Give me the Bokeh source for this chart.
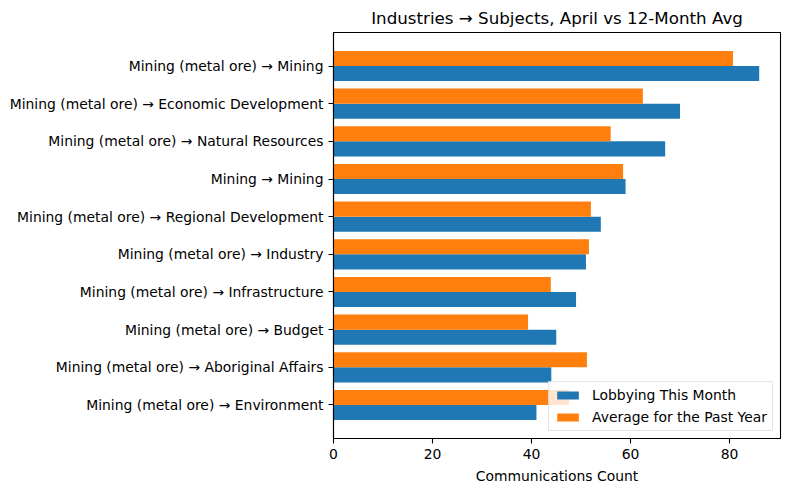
from bokeh.plotting import figure
from bokeh.models import ColumnDataSource, Range1d, FixedTicker, Legend, LegendItem
from bokeh.transform import dodge
from bokeh.embed import file_html
from bokeh.resources import INLINE

categories = [
    "Mining (metal ore) → Mining",
    "Mining (metal ore) → Economic Development",
    "Mining (metal ore) → Natural Resources",
    "Mining → Mining",
    "Mining (metal ore) → Regional Development",
    "Mining (metal ore) → Industry",
    "Mining (metal ore) → Infrastructure",
    "Mining (metal ore) → Budget",
    "Mining (metal ore) → Aboriginal Affairs",
    "Mining (metal ore) → Environment",
]
this_month = [86, 70, 67, 59, 54, 51, 49, 45, 44, 41]
past_year_avg = [80.7, 62.5, 56.0, 58.5, 52.0, 51.6, 43.9, 39.3, 51.2, 47.6]
x_ticks = [0, 20, 40, 60, 80]

n = len(categories)
pos = [n - 1 - i for i in range(n)]
src = ColumnDataSource(dict(pos=pos, cat=categories, cur=this_month, avg=past_year_avg))

FONT = "DejaVu Sans"
BLUE = "#1f77b4"
ORANGE = "#ff7f0e"

p = figure(width=790, height=491, output_backend="svg", toolbar_location=None,
           x_range=Range1d(0, 90.3), y_range=Range1d(-0.89, 9.89),
           title="Industries → Subjects, April vs 12-Month Avg")
p.min_border_left = 333
p.min_border_right = 10
p.min_border_top = 30
p.min_border_bottom = 53

r_cur = p.hbar(y=dodge("pos", -0.2, range=p.y_range), right="cur", left=0, height=0.4,
               source=src, fill_color=BLUE, line_color=None)
r_avg = p.hbar(y=dodge("pos", 0.2, range=p.y_range), right="avg", left=0, height=0.4,
               source=src, fill_color=ORANGE, line_color=None)

p.title.text_font = FONT
p.title.text_font_size = "16.7px"
p.title.text_font_style = "normal"
p.title.align = "center"
p.title.text_color = "black"

p.xgrid.visible = False
p.ygrid.visible = False
p.outline_line_color = "black"
p.outline_line_width = 1.1
p.background_fill_color = "white"
p.border_fill_color = "white"

for ax in (p.xaxis[0], p.yaxis[0]):
    ax.major_label_text_font = FONT
    ax.major_label_text_font_size = "13.9px"
    ax.major_label_text_color = "black"
    ax.axis_line_color = "black"
    ax.axis_line_width = 1.1
    ax.major_tick_line_color = "black"
    ax.major_tick_line_width = 1.1
    ax.major_tick_out = 5
    ax.major_tick_in = 0
    ax.minor_tick_line_color = None
    ax.major_label_standoff = 5

p.xaxis.ticker = FixedTicker(ticks=x_ticks)
p.xaxis.axis_label = "Communications Count"
p.xaxis.axis_label_text_font = FONT
p.xaxis.axis_label_text_font_size = "13.9px"
p.xaxis.axis_label_text_font_style = "normal"
p.xaxis.axis_label_text_color = "black"
p.xaxis.axis_label_standoff = 6

p.yaxis.ticker = FixedTicker(ticks=pos)
p.yaxis.major_label_overrides = {pp: c for pp, c in zip(pos, categories)}

legend = Legend(items=[LegendItem(label="Lobbying This Month", renderers=[r_cur]),
                       LegendItem(label="Average for the Past Year", renderers=[r_avg])],
                location="bottom_right")
legend.label_text_font = FONT
legend.label_text_font_size = "13.9px"
legend.label_text_color = "black"
legend.glyph_width = 27
legend.glyph_height = 10
legend.label_height = 15
legend.label_standoff = 11
legend.spacing = 6
legend.padding = 5
legend.margin = 7
legend.border_line_color = "#cccccc"
legend.background_fill_alpha = 0.8
p.add_layout(legend)

open("out.html", "w").write(file_html(p, INLINE))
